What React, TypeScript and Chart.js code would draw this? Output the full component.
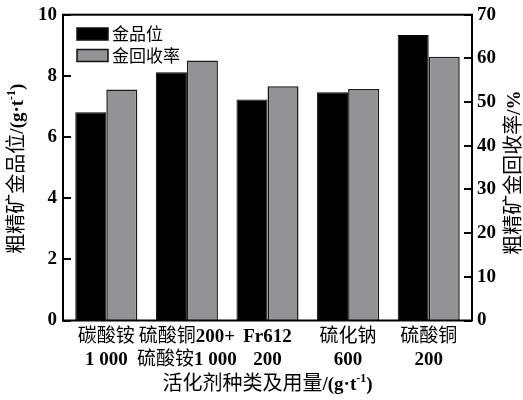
import { useEffect, useRef } from "react";
import { Chart, registerables } from "chart.js";

Chart.register(...registerables);

// ---- data ----
const categoryLines: string[][] = [
  ["碳酸铵", "1 000"],
  ["硫酸铜200+", "硫酸铵1 000"],
  ["Fr612", "200"],
  ["硫化钠", "600"],
  ["硫酸铜", "200"],
];
const gradeValues = [6.81, 8.12, 7.23, 7.46, 9.34];
const recoveryValues = [52.9, 59.5, 53.6, 53.0, 60.4];
const seriesNames = ["金品位", "金回收率"];
const leftAxis = { min: 0, max: 10, step: 2 };
const rightAxis = { min: 0, max: 70, step: 10 };

type Part = { t: string; sup?: boolean };
const xTitle: Part[] = [{ t: "活化剂种类及用量/(g·t" }, { t: "-1", sup: true }, { t: ")" }];
const yTitle: Part[] = [{ t: "粗精矿金品位/(g·t" }, { t: "-1", sup: true }, { t: ")" }];
const y1Title: Part[] = [{ t: "粗精矿金回收率/%" }];

const BLACK = "#000000";
const GRAY = "#939396";

const CJK_RE = /[\u2E80-\u9FFF\u3000-\u303F\uFF00-\uFFEF]/;

type FontSet = { cjk: string; lat: string; sup: string; supRise: number; base: number };

function makeSegs(parts: Part[], f: FontSet) {
  const out: { text: string; font: string; dy: number; w: number }[] = [];
  for (const p of parts) {
    if (p.sup) {
      out.push({ text: p.t, font: f.sup, dy: -f.supRise, w: 0 });
      continue;
    }
    let cur = "";
    let curC: boolean | null = null;
    for (const ch of p.t) {
      const c = CJK_RE.test(ch);
      if (curC !== null && c !== curC) {
        out.push({ text: cur, font: curC ? f.cjk : f.lat, dy: 0, w: 0 });
        cur = "";
      }
      cur += ch;
      curC = c;
    }
    if (cur) out.push({ text: cur, font: curC ? f.cjk : f.lat, dy: 0, w: 0 });
  }
  return out;
}

function drawRich(ctx: CanvasRenderingContext2D, parts: Part[], cx: number, cy: number, f: FontSet, align: "center" | "left" = "center") {
  const segs = makeSegs(parts, f);
  let total = 0;
  for (const s of segs) {
    ctx.font = s.font;
    s.w = ctx.measureText(s.text).width;
    total += s.w;
  }
  let x = align === "center" ? cx - total / 2 : cx;
  ctx.textAlign = "left";
  ctx.textBaseline = "alphabetic";
  for (const s of segs) {
    ctx.font = s.font;
    ctx.fillText(s.text, x, cy + f.base + s.dy);
    x += s.w;
  }
}

const labelFont: FontSet = {
  cjk: '19px "Noto Sans CJK SC"',
  lat: 'bold 19px "Liberation Serif"',
  sup: 'bold 12px "Liberation Serif"',
  supRise: 8,
  base: 7,
};
const titleFont: FontSet = {
  cjk: '20px "Noto Sans CJK SC"',
  lat: 'bold 19px "Liberation Serif"',
  sup: 'bold 12px "Liberation Serif"',
  supRise: 8,
  base: 7,
};
const legendFont: FontSet = {
  cjk: '17px "Noto Sans CJK SC"',
  lat: 'bold 17px "Liberation Serif"',
  sup: 'bold 11px "Liberation Serif"',
  supRise: 7,
  base: 6,
};

const decorPlugin = {
  id: "decor",
  afterDatasetsDraw(chart: any) {
    const { ctx, chartArea: a, scales } = chart;
    const L = a.left - 3;
    const R = a.right + 3;
    const T = a.top;
    const B = a.bottom;
    ctx.save();
    ctx.fillStyle = "#000";
    ctx.strokeStyle = "#000";
    ctx.lineWidth = 2;
    ctx.strokeRect(L, T, R - L, B - T);
    // inner tick marks
    for (const t of scales.y.ticks) {
      const py = Math.round(scales.y.getPixelForValue(t.value));
      ctx.beginPath();
      ctx.moveTo(L, py);
      ctx.lineTo(L + 8, py);
      ctx.stroke();
    }
    for (const t of scales.y1.ticks) {
      const py = Math.round(scales.y1.getPixelForValue(t.value));
      ctx.beginPath();
      ctx.moveTo(R - 8, py);
      ctx.lineTo(R, py);
      ctx.stroke();
    }
    // legend
    const colors = [BLACK, GRAY];
    const rowsY = [34, 55.5];
    seriesNames.forEach((name, i) => {
      const by = rowsY[i] - 6;
      ctx.fillStyle = colors[i];
      ctx.fillRect(77, by, 31, 12);
      ctx.lineWidth = 1.5;
      ctx.strokeStyle = "#111";
      ctx.strokeRect(77, by, 31, 12);
      ctx.fillStyle = "#000";
      drawRich(ctx, [{ t: name }], 112, rowsY[i], legendFont, "left");
    });
    // x category labels
    const xs = scales.x;
    categoryLines.forEach((lines, i) => {
      const px = xs.getPixelForValue(i);
      drawRich(ctx, [{ t: lines[0] }], px, 335, labelFont);
      drawRich(ctx, [{ t: lines[1] }], px, 358, labelFont);
    });
    // axis titles
    drawRich(ctx, xTitle, (L + R) / 2, 383, titleFont);
    const cy = (T + B) / 2;
    ctx.save();
    ctx.translate(16, cy + 1);
    ctx.rotate(-Math.PI / 2);
    drawRich(ctx, yTitle, 0, 0, titleFont);
    ctx.restore();
    ctx.save();
    ctx.translate(513, cy + 5);
    ctx.rotate(-Math.PI / 2);
    drawRich(ctx, y1Title, 0, 0, titleFont);
    ctx.restore();
    ctx.restore();
  },
};

export default function App() {
  const ref = useRef<HTMLCanvasElement | null>(null);
  useEffect(() => {
    if (!ref.current) return;
    const tickFont = { family: '"Liberation Serif"', size: 19, weight: "bold" as const, lineHeight: 0.6 };
    const chart = new Chart(ref.current, {
      type: "bar",
      data: {
        labels: categoryLines.map((l) => l.join(" ")),
        datasets: [
          {
            label: seriesNames[0],
            data: gradeValues,
            yAxisID: "y",
            backgroundColor: BLACK,
            borderColor: BLACK,
            borderWidth: 1,
            categoryPercentage: 0.77,
            barPercentage: 1,
          },
          {
            label: seriesNames[1],
            data: recoveryValues,
            yAxisID: "y1",
            backgroundColor: GRAY,
            borderColor: "#1a1a1a",
            borderWidth: 1.5,
            categoryPercentage: 0.77,
            barPercentage: 1,
          },
        ],
      },
      options: {
        responsive: false,
        animation: false,
        layout: { padding: { top: 14, left: 0, right: 0, bottom: 0 } },
        plugins: { legend: { display: false }, tooltip: { enabled: false } },
        scales: {
          x: {
            grid: { display: false, drawTicks: false },
            border: { display: false },
            ticks: { display: false },
            afterFit: (s: any) => {
              s.height = 79.5;
            },
          },
          y: {
            position: "left",
            min: leftAxis.min,
            max: leftAxis.max,
            ticks: { stepSize: leftAxis.step, font: tickFont, color: "#000", padding: 9 },
            grid: { display: false, drawTicks: false },
            border: { display: false },
            afterFit: (s: any) => {
              s.width = 66;
            },
          },
          y1: {
            position: "right",
            min: rightAxis.min,
            max: rightAxis.max,
            ticks: { stepSize: rightAxis.step, font: tickFont, color: "#000", padding: 8 },
            grid: { display: false, drawTicks: false },
            border: { display: false },
            afterFit: (s: any) => {
              s.width = 54;
            },
          },
        },
      },
      plugins: [decorPlugin],
    });
    return () => chart.destroy();
  }, []);
  return (
    <div style={{ position: "absolute", left: 0, top: 0, width: 523, height: 400, background: "#fff" }}>
      <canvas ref={ref} width={523} height={400} style={{ display: "block" }} />
    </div>
  );
}
